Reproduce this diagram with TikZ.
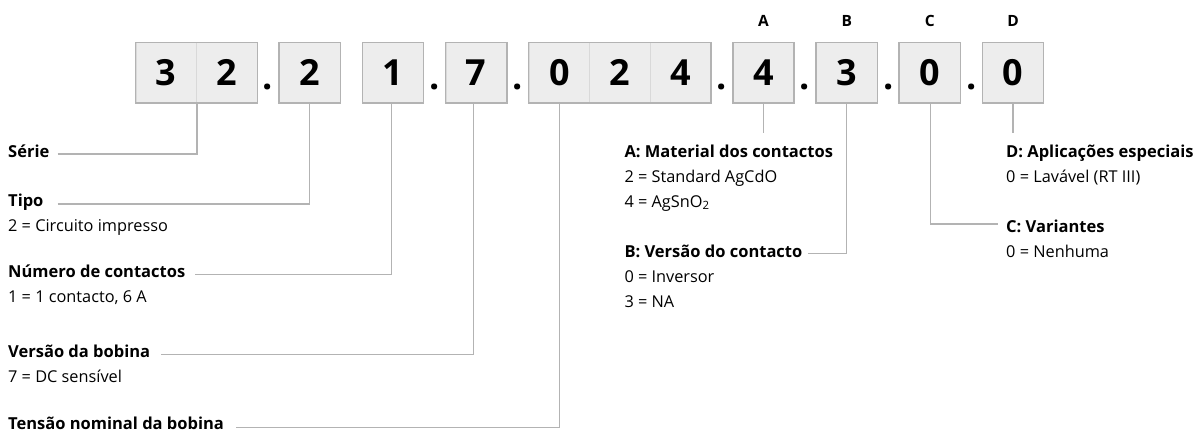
\documentclass[tikz,border=0pt]{standalone}
\usepackage{fontspec}
\setmainfont{Open Sans}
\definecolor{boxfill}{HTML}{EDEDED}
\definecolor{boxedge}{HTML}{B3B3B3}
\definecolor{divline}{HTML}{D9D9D9}
\definecolor{connc}{HTML}{B3B3B3}
\begin{document}
\begin{tikzpicture}[x=1pt,y=-1pt,
  cell/.style={draw=divline, line width=0.8pt, fill=boxfill, minimum width=60.6pt, minimum height=60pt, inner sep=0pt, font=\fontsize{36}{36}\selectfont\bfseries},
  grp/.style={draw=boxedge, line width=1.5pt},
  sep/.style={inner sep=0pt, anchor=base, font=\fontsize{36}{36}\selectfont\bfseries},
  letter/.style={inner sep=0pt, font=\fontsize{15.5}{16}\selectfont\bfseries},
  head/.style={anchor=base west, inner sep=0pt, font=\fontsize{16.5}{17}\selectfont\bfseries},
  sub/.style={anchor=base west, inner sep=0pt, font=\fontsize{16.3}{17}\selectfont},
  conn/.style={draw=connc, line width=1.2pt}
]
\useasboundingbox (0,0) rectangle (1195,434);
% cells
\node[cell] (c3)  at (166.2,72.7) {3};
\node[cell] (c2a) at (226.8,72.7) {2};
\node[cell] (c2b) at (309.8,72.7) {2};
\node[cell] (c1)  at (393.0,72.7) {1};
\node[cell] (c7)  at (476.2,72.7) {7};
\node[cell] (c0)  at (559.3,72.7) {0};
\node[cell] (c2c) at (619.9,72.7) {2};
\node[cell] (c4a) at (680.5,72.7) {4};
\node[cell] (cA)  at (763.5,72.7) {4};
\node[cell] (cB)  at (846.7,72.7) {3};
\node[cell] (cC)  at (929.8,72.7) {0};
\node[cell] (cD)  at (1013.0,72.7) {0};
% outlines
\draw[grp] (c3.north west) rectangle (c2a.south east);
\draw[grp] (c2b.north west) rectangle (c2b.south east);
\draw[grp] (c1.north west) rectangle (c1.south east);
\draw[grp] (c7.north west) rectangle (c7.south east);
\draw[grp] (c0.north west) rectangle (c4a.south east);
\draw[grp] (cA.north west) rectangle (cA.south east);
\draw[grp] (cB.north west) rectangle (cB.south east);
\draw[grp] (cC.north west) rectangle (cC.south east);
\draw[grp] (cD.north west) rectangle (cD.south east);
% separators
\node[sep] (d1) at (268.1,89) {.};
\node[sep] (d2) at (434.9,89) {.};
\node[sep] (d3) at (518.0,89) {.};
\node[sep] (d4) at (722.0,89) {.};
\node[sep] (d5) at (805.1,89) {.};
\node[sep] (d6) at (888.2,89) {.};
\node[sep] (d7) at (971.4,89) {.};
% letters
\node[letter] (lA) at (763.5,21) {A};
\node[letter] (lB) at (846.7,21) {B};
\node[letter] (lC) at (929.8,21) {C};
\node[letter] (lD) at (1013.0,21) {D};
% left labels
\node[head] (serie) at (8,157) {Série};
\node[head] (tipo) at (8,206.5) {Tipo};
\node[sub] (tiposub) at (8,231.5) {2 = Circuito impresso};
\node[head] (numero) at (8,277.5) {Número de contactos};
\node[sub] (numerosub) at (8,302.5) {1 = 1 contacto, 6 A};
\node[head] (versao) at (8,357.5) {Versão da bobina};
\node[sub] (versaosub) at (8,382.5) {7 = DC sensível};
\node[head] (tensao) at (8,429.5) {Tensão nominal da bobina};
% right labels
\node[head] (aHead) at (624.3,157.3) {A: Material dos contactos};
\node[sub] (aSub1) at (624.3,182.3) {2 = Standard AgCdO};
\node[sub] (aSub2) at (624.3,207.3) {4 = AgSnO\textsubscript{2}};
\node[head] (bHead) at (624.3,257.3) {B: Versão do contacto};
\node[sub] (bSub1) at (624.3,282.3) {0 = Inversor};
\node[sub] (bSub2) at (624.3,307.3) {3 = NA};
\node[head] (dHead) at (1006,157.3) {D: Aplicações especiais};
\node[sub] (dSub1) at (1006,182.3) {0 = Lavável (RT III)};
\node[head] (cHead) at (1006,232) {C: Variantes};
\node[sub] (cSub1) at (1006,257) {0 = Nenhuma};
% connectors
\coordinate (aEnd) at (763.5,133);
\coordinate (dEnd) at (1013.0,133);
\draw[conn] ([xshift=8pt,yshift=3pt]serie.base east) -| (c3.south east);
\draw[conn] ([xshift=14pt,yshift=2.5pt]tipo.base east) -| (c2b.south);
\draw[conn] ([xshift=10pt,yshift=3.2pt]numero.base east) -| ([xshift=-1.5pt]c1.south);
\draw[conn] ([xshift=11pt,yshift=3.2pt]versao.base east) -| ([xshift=-3pt]c7.south);
\draw[conn] ([xshift=12pt,yshift=2pt]tensao.base east) -| (c0.south);
\draw[conn] (cA.south) -- (aEnd);
\draw[conn] (cB.south) |- ([xshift=5pt,yshift=4pt]bHead.base east);
\draw[conn] ([xshift=1pt]cC.south) |- ([xshift=-8pt,yshift=8pt]cHead.base west);
\draw[conn] (cD.south) -- (dEnd);
\end{tikzpicture}
\end{document}
